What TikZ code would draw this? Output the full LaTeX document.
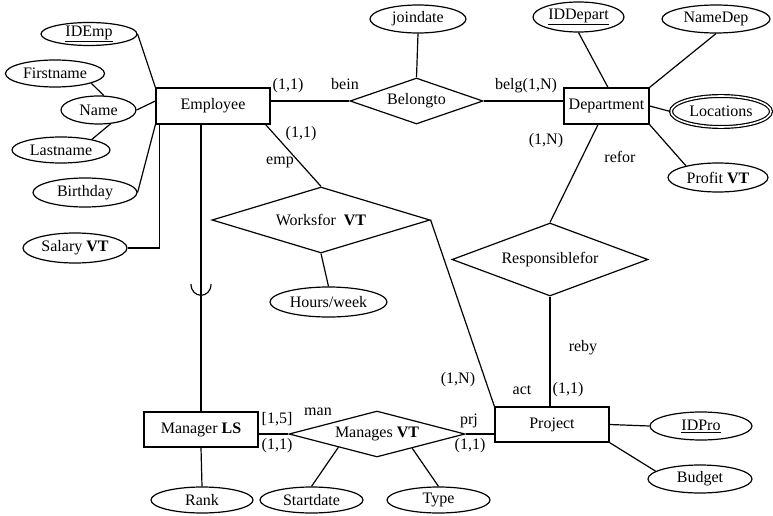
\documentclass[tikz,border=0pt]{standalone}
\usepackage{fontspec}
\setmainfont{Liberation Serif}
\usetikzlibrary{shapes.geometric,calc}
\begin{document}
\begin{tikzpicture}[x=1pt,y=-1pt,
 every node/.style={font=\fontsize{16}{18}\selectfont},
 ent/.style={draw,rectangle,inner sep=0pt,line width=1.2pt},
 attr/.style={draw,ellipse,inner sep=0pt,line width=1.2pt},
 rel/.style={draw,diamond,inner sep=0pt,line width=1.2pt},
 lbl/.style={inner sep=0pt},
 conn/.style={line width=1.2pt}]
\useasboundingbox (0,0) rectangle (773,516);

% entities
\node[ent,minimum width=114pt,minimum height=36pt] (emp) at (213,106) {Employee};
\node[ent,minimum width=85pt,minimum height=36pt] (dep) at (606.5,106) {Department};
\node[ent,minimum width=114pt,minimum height=35pt] (prj) at (552,424.5) {Project};
\node[ent,minimum width=114pt,minimum height=35pt] (mgr) at (201,429.5) {Manager \textbf{LS}};

% attributes
\node[attr,minimum width=96pt,minimum height=23pt] (idemp) at (89,34) {\underline{IDEmp}};
\node[attr,minimum width=99pt,minimum height=27pt] (firstname) at (55,73.5) {Firstname};
\node[attr,minimum width=75pt,minimum height=28pt] (name) at (98.5,110) {Name};
\node[attr,minimum width=98pt,minimum height=26pt] (lastname) at (61,150) {Lastname};
\node[attr,minimum width=104pt,minimum height=29pt] (birthday) at (85,192.5) {Birthday};
\node[attr,minimum width=104pt,minimum height=30pt] (salary) at (75,248) {Salary \textbf{VT}};
\node[attr,minimum width=96pt,minimum height=28pt] (joindate) at (418,19) {joindate};
\node[attr,minimum width=91pt,minimum height=30pt] (iddepart) at (578.5,17) {\underline{IDDepart}};
\node[attr,minimum width=108pt,minimum height=28pt] (namedep) at (716,19) {NameDep};
\node[attr,minimum width=100pt,minimum height=31pt,double,double distance=1.6pt,line width=1.2pt] (locations) at (721,111.5) {Locations};
\node[attr,minimum width=100pt,minimum height=29pt] (profit) at (718,177.5) {Profit \textbf{VT}};
\node[attr,minimum width=117pt,minimum height=30pt] (hours) at (328.5,302) {Hours/week};
\node[attr,minimum width=102pt,minimum height=28pt] (idpro) at (701,426) {\underline{IDPro}};
\node[attr,minimum width=104pt,minimum height=28pt] (budget) at (700,479) {Budget};
\node[attr,minimum width=102pt,minimum height=26pt] (rank) at (202,500) {Rank};
\node[attr,minimum width=103pt,minimum height=26pt] (startdate) at (311.5,500) {Startdate};
\node[attr,minimum width=103pt,minimum height=26pt] (type) at (438.5,500) {Type};

% relationships
\node[rel,minimum width=133pt,minimum height=46pt,aspect=2.89] (belongto) at (416.5,101) {Belongto};
\node[rel,minimum width=218pt,minimum height=66pt,aspect=3.3] (worksfor) at (321,220) {Worksfor\ \ \textbf{VT}};
\node[rel,minimum width=196pt,minimum height=73pt,aspect=2.68] (resp) at (550,259.5) {Responsiblefor};
\node[rel,minimum width=176pt,minimum height=46pt,aspect=3.83] (manages) at (377,434) {Manages \textbf{VT}};

% connectors
\draw[conn] (idemp.east) -- (emp.north west);
\draw[conn] (name.east) -- ([yshift=5pt]emp.west);
\draw[conn] (firstname.-15) -- (name.70);
\draw[conn] (name.-49) -- (lastname.19);
\draw[conn] (birthday.east) -- (emp.south west);
\draw[conn] (salary.east) -| ([xshift=4pt]emp.south west);
\draw[conn] (mgr.north) -- (mgr.north |- emp.south);
\coordinate (cupL) at (191,284);
\coordinate (cupR) at (211,284);
\draw[conn] (cupL) .. controls (191,299) and (211,299) .. (cupR);

\draw[conn] (belongto.west) -- (belongto.west -| emp.east);
\draw[conn] (belongto.east) -- (belongto.east -| dep.west);
\draw[conn] (joindate.south) -- (belongto.north);
\draw[conn] (iddepart.south) -- ([xshift=1.5pt]dep.north);
\draw[conn] (namedep.south) -- (dep.north east);
\draw[conn] (dep.east) -- (locations.west);
\draw[conn] (dep.south east) -- (profit.160);
\draw[conn] ([xshift=-8.5pt]dep.south) -- (resp.north);
\draw[conn] (resp.south) -- (resp.south |- prj.north);
\draw[conn] ([xshift=-5pt]emp.south east) -- (worksfor.north);
\draw[conn] (worksfor.south) -- (hours.north);
\draw[conn] (worksfor.east) -- (prj.north west);
\draw[conn] (manages.west) -- (manages.west -| mgr.east);
\draw[conn] (manages.east) -- (manages.east -| prj.west);
\draw[conn] (mgr.south) -- (rank.north);
\draw[conn] (manages.-161) -- (startdate.north);
\draw[conn] (manages.-22) -- (type.north);
\draw[conn] (prj.east) -- (idpro.west);
\draw[conn] (prj.south east) -- (budget.170);

% labels
\node[lbl] (l1) at (288,86) {(1,1)};
\node[lbl] (l2) at (345,84) {bein};
\node[lbl] (l3) at (526,86) {belg(1,N)};
\node[lbl] (l4) at (546,141) {(1,N)};
\node[lbl] (l5) at (620,157) {refor};
\node[lbl] (l6) at (301,134) {(1,1)};
\node[lbl] (l7) at (280,162) {emp};
\node[lbl] (l8) at (583,348) {reby};
\node[lbl] (l9) at (522,390) {act};
\node[lbl] (l10) at (568,390) {(1,1)};
\node[lbl] (l11) at (458,380) {(1,N)};
\node[lbl] (l12) at (277,419) {[1,5]};
\node[lbl] (l13) at (277,446) {(1,1)};
\node[lbl] (l14) at (318,412) {man};
\node[lbl] (l15) at (469,421) {prj};
\node[lbl] (l16) at (470,446) {(1,1)};
\end{tikzpicture}
\end{document}
